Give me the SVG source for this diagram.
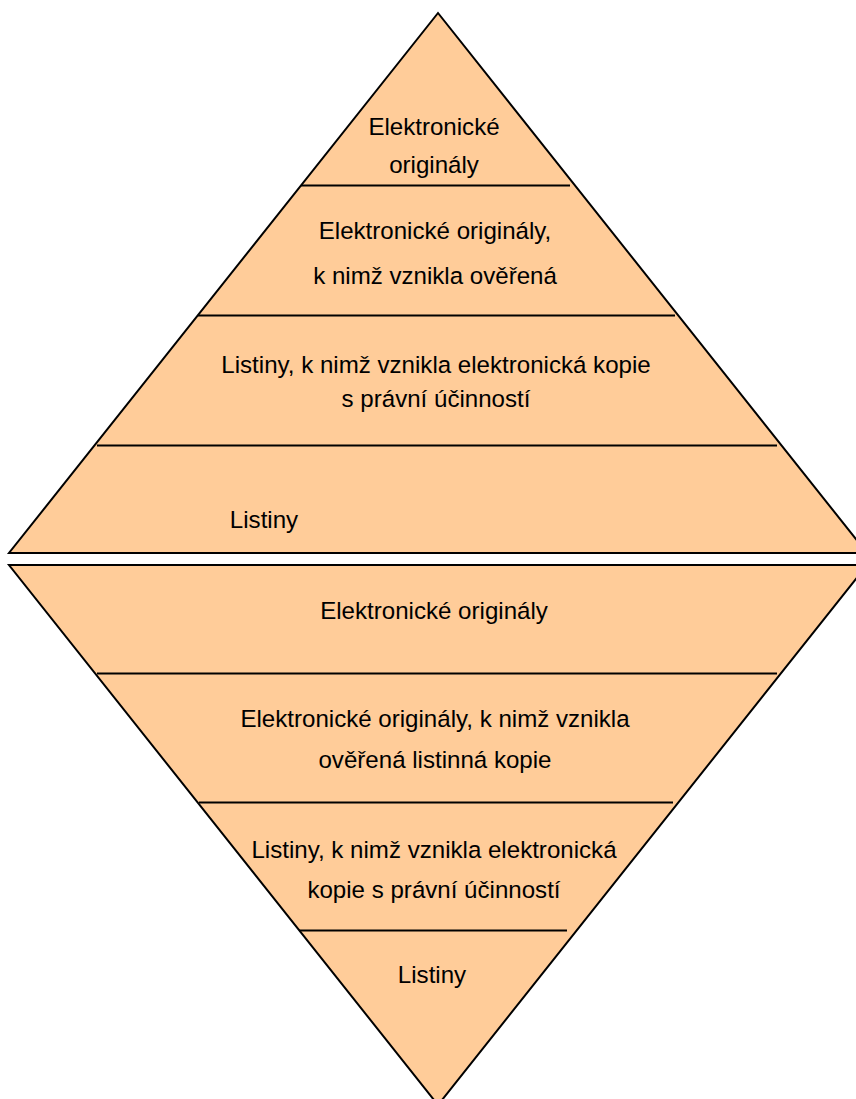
<svg xmlns="http://www.w3.org/2000/svg" width="856" height="1099" viewBox="0 0 856 1099">
<style>
.tri{fill:#FFCC99;stroke:#000;stroke-width:2;stroke-linejoin:miter}
.sep{stroke:#000;stroke-width:2;fill:none}
.t{font-family:"Liberation Sans",Arial,sans-serif;font-size:24.1px;fill:#000;text-anchor:middle}
</style>
<rect width="856" height="1099" fill="#fff"/>
<g id="top-pyramid">
<polygon class="tri" points="438,13 9,553 867,553"/>
</g>
<g id="bottom-pyramid">
<polygon class="tri" points="9,565 867,565 438,1105"/>
</g>
<g id="connectors">
<line class="sep" x1="301" y1="185.5" x2="570" y2="185.5"/>
<line class="sep" x1="198" y1="315.5" x2="675" y2="315.5"/>
<line class="sep" x1="97" y1="445.5" x2="777" y2="445.5"/>
<line class="sep" x1="97" y1="673.5" x2="777" y2="673.5"/>
<line class="sep" x1="199" y1="802.5" x2="673" y2="802.5"/>
<line class="sep" x1="299" y1="930.5" x2="567" y2="930.5"/>
</g>
<g id="top-band-1">
<text class="t" x="434" y="135">Elektronické</text>
<text class="t" x="434" y="173">originály</text>
</g>
<g id="top-band-2">
<text class="t" x="435" y="239">Elektronické originály,</text>
<text class="t" x="435" y="284">k nimž vznikla ověřená</text>
</g>
<g id="top-band-3">
<text class="t" x="436" y="373">Listiny, k nimž vznikla elektronická kopie</text>
<text class="t" x="436" y="407">s právní účinností</text>
</g>
<g id="top-band-4">
<text class="t" x="264" y="528">Listiny</text>
</g>
<g id="bottom-band-1">
<text class="t" x="434" y="619">Elektronické originály</text>
</g>
<g id="bottom-band-2">
<text class="t" x="435" y="727">Elektronické originály, k nimž vznikla</text>
<text class="t" x="435" y="768">ověřená listinná kopie</text>
</g>
<g id="bottom-band-3">
<text class="t" x="434" y="858">Listiny, k nimž vznikla elektronická</text>
<text class="t" x="434" y="898">kopie s právní účinností</text>
</g>
<g id="bottom-band-4">
<text class="t" x="432" y="983">Listiny</text>
</g>
</svg>
